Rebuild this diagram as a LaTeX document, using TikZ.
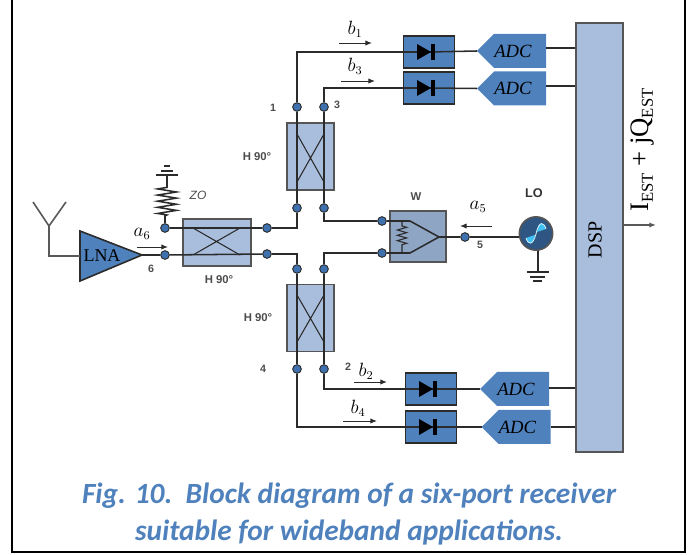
\documentclass[tikz,border=0pt]{standalone}
\usepackage{fontspec}
\setmainfont{Liberation Sans}
\newfontfamily\serifface{Liberation Serif}
\newfontfamily\capface{Carlito}
\usetikzlibrary{arrows.meta,decorations.pathmorphing}
\definecolor{portblue}{HTML}{3F71AE}
\definecolor{boxlight}{HTML}{A9BEDD}
\definecolor{boxdark}{HTML}{4F81BD}
\definecolor{mixgrey}{HTML}{8FA5C4}
\definecolor{capblue}{HTML}{4F81BD}
\definecolor{wire}{HTML}{2B2B2B}
\begin{document}
\begin{tikzpicture}[
    x=0.75pt, y=-0.75pt,
    >=Latex,
    wireline/.style={draw=wire, line width=1.15pt},
    portdot/.style={circle, draw=wire, fill=portblue, line width=0.7pt, inner sep=0pt, minimum size=6.5pt},
    hybrid/.style={draw=wire!80, fill=boxlight, line width=1.2pt, inner sep=0pt},
    crossline/.style={draw=wire, line width=0.8pt},
    detbox/.style={draw=wire, fill=boxdark, line width=1.2pt, inner sep=0pt, minimum width=38pt, minimum height=24pt},
    adcbox/.style={font=\serifface\itshape\fontsize{14}{14}\selectfont, inner sep=0pt},
    smalllbl/.style={font=\bfseries\fontsize{8}{8}\selectfont, text=black!70, inner sep=0pt},
    hlbl/.style={font=\bfseries\fontsize{8.5}{9}\selectfont, text=black!70, inner sep=0pt},
    siglbl/.style={font=\serifface\itshape\fontsize{13.5}{14}\selectfont, inner sep=0pt},
    sigarrow/.style={-{Latex[length=5pt,width=4pt]}, draw=wire, line width=0.7pt},
  ]
    \useasboundingbox (0,0) rectangle (696,555);
    \draw[line width=1.4pt] (12,0) -- (12,552) -- (685,552) -- (685,0);

    % hybrids
    \node[hybrid, minimum width=51pt, minimum height=35pt] (hyba) at (217,242.5) {};
    \node[hybrid, minimum width=35pt, minimum height=50pt] (hybb) at (310.5,156.5) {};
    \node[hybrid, minimum width=35pt, minimum height=50pt] (hybc) at (310.5,318) {};
    \draw[crossline] (193,228) -- (240,255) (193,255) -- (240,228);
    \draw[crossline] (297,134) -- (324,182) (324,134) -- (297,182);
    \draw[crossline] (297,295) -- (324,342) (324,295) -- (297,342);

    % ports
    \node[portdot] (p1) at (297,107) {};
    \node[portdot] (p3) at (324,107) {};
    \node[portdot] (p1b) at (297,208) {};
    \node[portdot] (p3b) at (324,208) {};
    \node[portdot] (p2t) at (297,269) {};
    \node[portdot] (p4t) at (324,269) {};
    \node[portdot] (p4) at (297,369) {};
    \node[portdot] (p2) at (324,369) {};
    \node[portdot] (pz) at (165,228) {};
    \node[portdot] (p6) at (165,255) {};
    \node[portdot] (paa) at (267,228) {};
    \node[portdot] (pab) at (267,254) {};
    \node[portdot] (pwa) at (382,221) {};
    \node[portdot] (pwb) at (382,253) {};
    \node[portdot] (p5) at (465,237) {};

    % detectors and converters
    \foreach \nm/\xx/\yy in {a/429/52, b/429/88, c/431/389, d/431/427} {
      \node[detbox] (det\nm) at (\xx,\yy) {};
    }
    \foreach \nm/\xx/\yy/\wy in {a/0/51/48, b/0/88.5/86, c/3/389/388, d/4.5/427/427} {
      \fill[boxdark] (477+\xx,\yy) -- (494+\xx,\yy-17) -- (546+\xx,\yy-17) -- (546+\xx,\yy+17) -- (494+\xx,\yy+17) -- cycle;
      \coordinate (adcin\nm) at (477+\xx,\yy);
      \coordinate (adcout\nm) at (546+\xx,\wy);
      \node[adcbox] (adc\nm) at (513+\xx,\yy) {ADC};
    }

    % dsp
    \node[draw=wire!80, fill=boxlight, line width=1.2pt, minimum width=35pt, minimum height=322pt, inner sep=0pt] (dsp) at (599.5,237.5) {};
    \node[rotate=90, font=\serifface\fontsize{15}{15}\selectfont, inner sep=0pt] (dsptxt) at (595,240) {DSP};

    % connections
    \draw[wireline] (p1) |- (deta.center);
    \draw[wireline] (p3) |- (detb.center);
    \draw[wireline] (deta.center) -- (adcina);
    \draw[wireline] (detb.center) -- (adcinb);
    \draw[wireline] (p1) -- (p1b);
    \draw[wireline] (p3) -- (p3b);
    \draw[wireline] (p2t) -- (p4);
    \draw[wireline] (p4t) -- (p2);
    \draw[wireline] (p2) |- (detc.center);
    \draw[wireline] (p4) |- (detd.center);
    \draw[wireline] (detc.center) -- (adcinc);
    \draw[wireline] (detd.center) -- (adcind);
    \foreach \nm in {a,b,c,d} {
      \draw[wireline] (adcout\nm) -- (adcout\nm -| dsp.west);
    }
    \draw[wireline] (pz) -- (paa);
    \draw[wireline] (p6) -- (pab);
    \draw[wireline] (paa) -| (p1b);
    \draw[wireline] (pab) -| (p2t);
    \draw[wireline] (p3b) |- (pwa);
    \draw[wireline] (p4t) |- (pwb);

    % diode symbols
    \foreach \nm in {a,b,c,d} {
      \fill[black] ([xshift=-9pt]det\nm.center) ++(0,6pt) -- ++(10.5pt,-6pt) -- ++(-10.5pt,-6pt) -- cycle;
      \fill[black] ([xshift=1.5pt,yshift=-6pt]det\nm.center) rectangle ++(3pt,12pt);
    }

    % mixer
    \node[draw=wire!80, fill=mixgrey, line width=1.2pt, minimum width=42pt, minimum height=38pt, inner sep=0pt] (mix) at (418,236.5) {};
    \draw[wireline] (pwa) -- (410,221) -- (439,237) -- (410,253) -- (pwb);
    \draw[crossline] (402,221) -- (402,226) decorate[decoration={zigzag,segment length=4pt,amplitude=3.5pt}] {-- (402,247)} -- (402,253);
    \draw[wireline] (439,237) -- (p5);
    \coordinate (gndlo) at (538,272);
    \draw[wireline] (p5) -- (p5 -| 536,0);
    \draw[wireline] (538,240) -- (gndlo);
    \node[circle, draw=wire!80, fill=portblue!75!black, line width=1.2pt, minimum size=25pt, inner sep=0pt] (lo) at (536,233.5) {};
    \fill[cyan!75!white] (526,238) .. controls (528,245) and (533,246) .. (535,235) -- cycle;
    \fill[cyan!75!white] (537,232) .. controls (539,220) and (544,222) .. (546,229) -- cycle;
    \draw[white!85!cyan, line width=0.6pt] (526,238) .. controls (528,245) and (533,246) .. (536,234) .. controls (539,220) and (544,222) .. (546,229);
    \draw[wireline] (527,272) -- (549,272);
    \draw[wireline] (530,277) -- (545,277);
    \draw[wireline] (533,281) -- (542,281);

    % antenna and amplifier
    \fill[boxdark, draw=wire, line width=1.2pt] (80,231) -- (142,255) -- (80,281) -- cycle;
    \coordinate (lnain) at (80,256);
    \coordinate (lnaout) at (142,255);
    \node[font=\serifface\fontsize{13.5}{14}\selectfont, inner sep=0pt] (lnatxt) at (102,256) {LNA};
    \coordinate (anttop) at (49,226);
    \draw[draw=black!65, line width=1.2pt] (33,202) -- (anttop) -- (66,202);
    \draw[draw=black!65, line width=1.2pt] (anttop) |- (lnain);
    \draw[wireline] (lnaout) -- (p6);

    % termination
    \coordinate (zotop) at (167,175);
    \draw[wireline] (pz) -- (165,216) -- (167,215) decorate[decoration={zigzag,segment length=4.6pt,amplitude=7pt}] {-- (167,187)} -- (zotop);
    \draw[wireline] (156,175) -- (178,175);
    \draw[wireline] (161,171) -- (173,171);
    \draw[wireline] (164,166) -- (170,166);

    % labels
    \node[font=\itshape\fontsize{9}{9}\selectfont, text=black!70, inner sep=0pt] (zolbl) at (198,195) {ZO};
    \node[smalllbl] (l1) at (273,108) {1};
    \node[smalllbl] (l3) at (337,105) {3};
    \node[smalllbl] (l4) at (263,369) {4};
    \node[smalllbl] (l2) at (348,367) {2};
    \node[smalllbl] (l5) at (480,245) {5};
    \node[smalllbl] (l6) at (151,269) {6};
    \node[hlbl] (hl1) at (257,157) {H 90°};
    \node[hlbl] (hl2) at (219,280) {H 90°};
    \node[hlbl] (hl3) at (258,318) {H 90°};
    \node[hlbl] (wl) at (416,197) {W};
    \node[font=\bfseries\fontsize{9.5}{10}\selectfont, text=black!80, inner sep=0pt] (lol) at (534,193) {LO};

    \node[siglbl] (bl1) at (355,29) {$b_1$};
    \node[siglbl] (bl3) at (355,66) {$b_3$};
    \node[siglbl] (bl2) at (366,371) {$b_2$};
    \node[siglbl] (bl4) at (358,408) {$b_4$};
    \node[siglbl] (al6) at (142,234) {$a_6$};
    \node[siglbl] (al5) at (478,207) {$a_5$};
    \coordinate (ar1s) at (339,43); \coordinate (ar1e) at (372,43);
    \coordinate (ar3s) at (341,81); \coordinate (ar3e) at (375,81);
    \coordinate (ar2s) at (354,382); \coordinate (ar2e) at (387,382);
    \coordinate (ar4s) at (343,421); \coordinate (ar4e) at (377,421);
    \coordinate (ar6s) at (137,247); \coordinate (ar6e) at (168,247);
    \coordinate (ar5s) at (492,226); \coordinate (ar5e) at (460,226);
    \foreach \nm in {1,3,2,4,6,5} {
      \draw[sigarrow] (ar\nm s) -- (ar\nm e);
    }

    % output
    \coordinate (outend) at (656,225);
    \draw[sigarrow, draw=black!65, line width=1pt] (dsp.east |- outend) -- (outend);
    \node[rotate=90, font=\serifface\fontsize{20}{20}\selectfont, inner sep=0pt] (outlbl) at (643,150) {I\raisebox{-3pt}{\fontsize{12.5}{13}\selectfont EST} + jQ\raisebox{-3pt}{\fontsize{12.5}{13}\selectfont EST}};

    % caption
    \node[align=center, text=capblue, font=\capface\bfseries\itshape\fontsize{22}{28}\selectfont, inner sep=0pt] (cap) at (349,514) {Fig. 10.\ \ Block diagram of a six-port receiver\\suitable for wideband applications.};
  \end{tikzpicture}
\end{document}
